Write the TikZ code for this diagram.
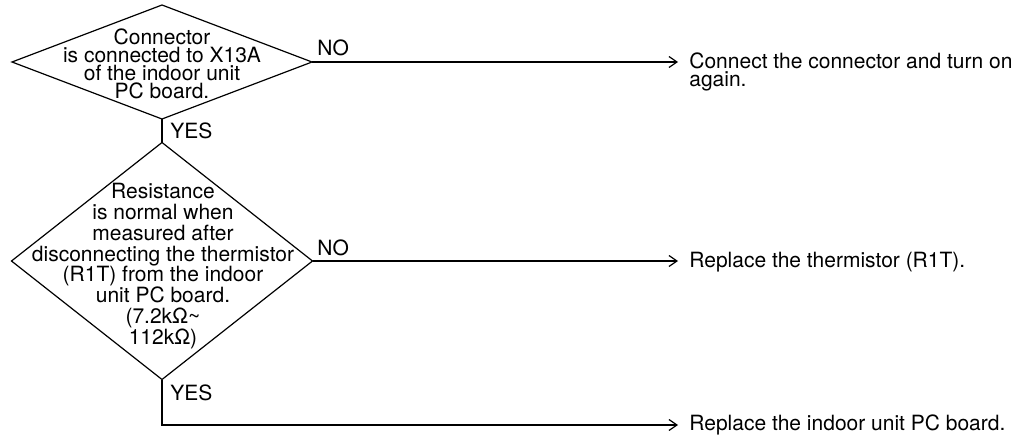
\documentclass[tikz,border=0pt]{standalone}
\usepackage{fontspec}
\setmainfont{TeX Gyre Heros}
\usetikzlibrary{shapes.geometric,arrows.meta}
\begin{document}
\begin{tikzpicture}[x=0.5pt,y=-0.5pt,
    chkBox/.style={diamond,draw,line width=0.6pt,inner sep=0pt,outer sep=0pt},
    chkTxt/.style={align=center,inner sep=0pt,font=\fontsize{10.5}{#1}\selectfont},
    resTxt/.style={align=left,inner xsep=5.5pt,inner ysep=0pt,font=\fontsize{10.5}{9}\selectfont},
    ansTxt/.style={anchor=base west,inner sep=0pt,font=\fontsize{10.5}{12}\selectfont},
    flowArr/.style={-{Straight Barb[length=4pt,width=5.5pt]},line width=0.6pt},
]
\useasboundingbox (0,0) rectangle (1028,439);
% First check: connector X13A
\node[chkBox,minimum width=150pt,minimum height=57pt] (q1) at (162,62) {};
\node[chkTxt=9] (q1t) at (162,64) {Connector\\is connected to X13A\\of the indoor unit\\PC board.};
% Second check: thermistor resistance
\node[chkBox,minimum width=150.5pt,minimum height=118.5pt] (q2) at (162,261) {};
\node[chkTxt=10.4] (q2t) at (163,266) {Resistance\\is normal when\\measured after\\disconnecting the thermistor\\(R1T) from the indoor\\unit PC board.\\(7.2kΩ\textasciitilde\\112kΩ)};
% Remedies
\node[resTxt,anchor=north west] (r1) at (678,52) {Connect the connector and turn on\\again.};
\node[resTxt,anchor=west] (r2) at (678,262) {Replace the thermistor (R1T).};
\node[resTxt,anchor=west] (r3) at (678,425) {Replace the indoor unit PC board.};
% Flow lines
\draw[line width=0.6pt] (q1.south) -- (q2.north);
\draw[flowArr] (q1.east) -- (q1.east -| r1.west);
\draw[flowArr] (q2.east) -- (q2.east -| r2.west);
\draw[flowArr] (q2.south) |- (r3.west);
% Answers
\node[ansTxt] (n1) at (317,55) {NO};
\node[ansTxt] (n2) at (317,255) {NO};
\node[ansTxt] (y1) at (170,138) {YES};
\node[ansTxt] (y2) at (170,400) {YES};
\end{tikzpicture}
\end{document}
